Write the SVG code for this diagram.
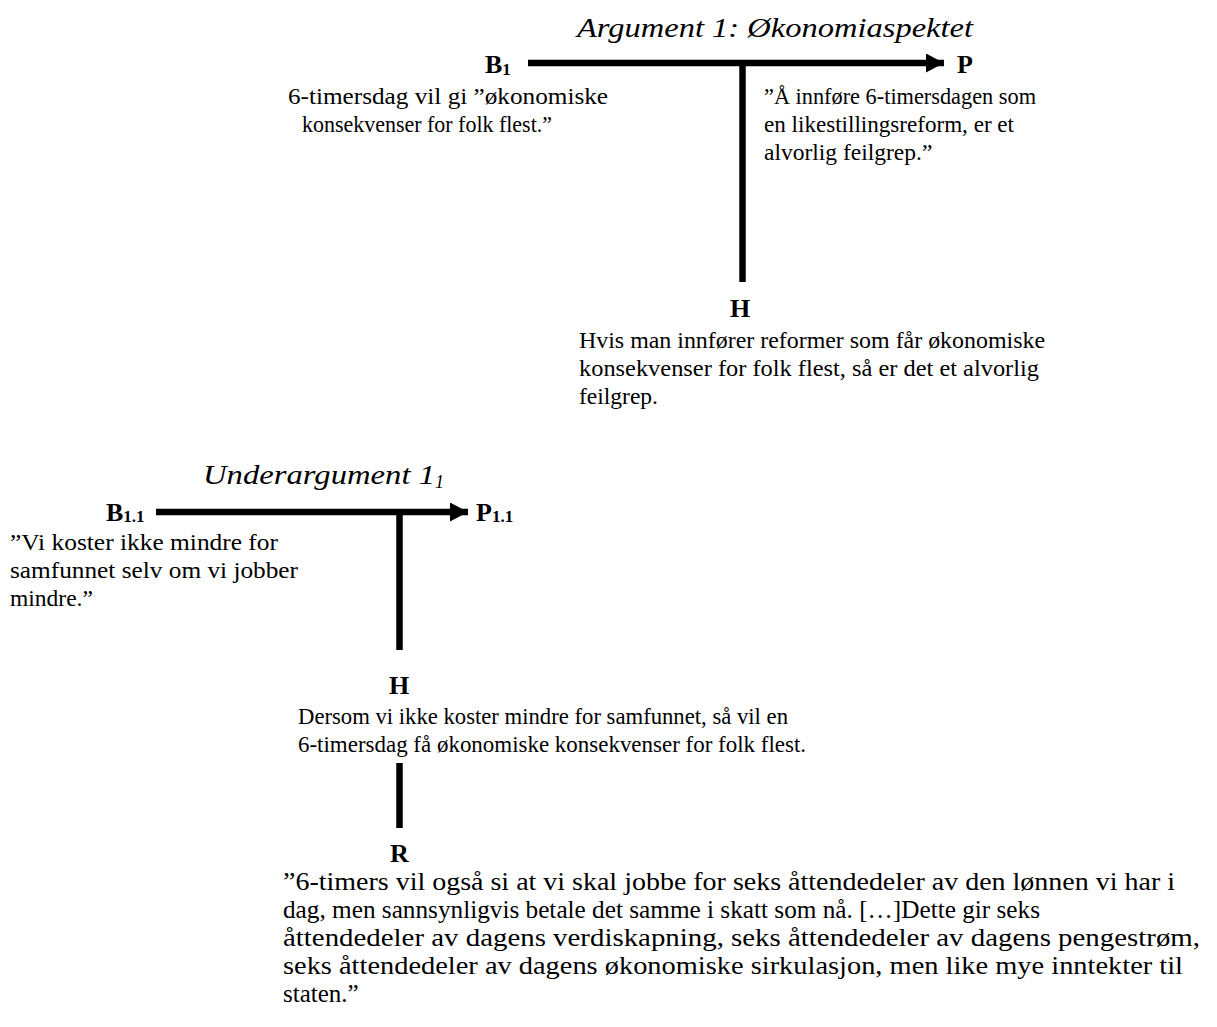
<svg xmlns="http://www.w3.org/2000/svg" width="1217" height="1027" viewBox="0 0 1217 1027">
<style>
text{font-family:"Liberation Serif","Times New Roman",serif;fill:#000}
.b{font-size:23.5px}
.r{font-size:25px}
.t{font-size:28px;font-style:italic}
.l{font-size:26px;font-weight:bold}
.s{font-size:17px}
.ln{stroke:#000;stroke-width:6.5;fill:none}
</style>
<defs>
<marker id="ah" markerUnits="userSpaceOnUse" markerWidth="20" markerHeight="20" refX="18" refY="9.5" orient="auto"><polygon points="0,0 18,9.5 0,19" fill="#000"/></marker>
</defs>
<rect width="1217" height="1027" fill="#fff"/>
<g id="connectors">
<line class="ln" x1="528" y1="63" x2="944" y2="63" marker-end="url(#ah)"/>
<line class="ln" x1="742.5" y1="63" x2="742.5" y2="282"/>
<line class="ln" x1="156" y1="512" x2="468" y2="512" marker-end="url(#ah)"/>
<line class="ln" x1="399.5" y1="512" x2="399.5" y2="650"/>
<line class="ln" x1="399.5" y1="763" x2="399.5" y2="828"/>
</g>
<g id="title1"><text class="t" x="577" y="37" textLength="396" lengthAdjust="spacingAndGlyphs">Argument 1: Økonomiaspektet</text></g>
<g id="B1">
<text class="l" x="485" y="73">B<tspan class="s" dy="2">1</tspan></text>
<text class="b" x="288" y="104" textLength="320" lengthAdjust="spacingAndGlyphs">6-timersdag vil gi ”økonomiske</text>
<text class="b" x="302" y="132" textLength="250" lengthAdjust="spacingAndGlyphs">konsekvenser for folk flest.”</text>
</g>
<g id="P">
<text class="l" x="957" y="73">P</text>
<text class="b" x="764" y="104" textLength="272" lengthAdjust="spacingAndGlyphs">”Å innføre 6-timersdagen som</text>
<text class="b" x="764" y="132" textLength="250" lengthAdjust="spacingAndGlyphs">en likestillingsreform, er et</text>
<text class="b" x="764" y="160">alvorlig feilgrep.”</text>
</g>
<g id="H1">
<text class="l" x="730" y="317">H</text>
<text class="b" x="579" y="348" textLength="466" lengthAdjust="spacingAndGlyphs">Hvis man innfører reformer som får økonomiske</text>
<text class="b" x="579" y="376" textLength="460" lengthAdjust="spacingAndGlyphs">konsekvenser for folk flest, så er det et alvorlig</text>
<text class="b" x="579" y="404">feilgrep.</text>
</g>
<g id="title2"><text class="t" x="203" y="484"><tspan textLength="232" lengthAdjust="spacingAndGlyphs">Underargument 1</tspan><tspan font-size="18" dy="4">1</tspan></text></g>
<g id="B11">
<text class="l" x="106" y="521">B<tspan class="s" dy="1">1.1</tspan></text>
<text class="b" x="10" y="550" textLength="268" lengthAdjust="spacingAndGlyphs">”Vi koster ikke mindre for</text>
<text class="b" x="10" y="578" textLength="288" lengthAdjust="spacingAndGlyphs">samfunnet selv om vi jobber</text>
<text class="b" x="10" y="606">mindre.”</text>
</g>
<g id="P11">
<text class="l" x="476" y="521">P<tspan class="s" dy="1">1.1</tspan></text>
</g>
<g id="H2">
<text class="l" x="389" y="694">H</text>
<text class="b" x="298" y="724" textLength="490" lengthAdjust="spacingAndGlyphs">Dersom vi ikke koster mindre for samfunnet, så vil en</text>
<text class="b" x="298" y="752" textLength="508" lengthAdjust="spacingAndGlyphs">6-timersdag få økonomiske konsekvenser for folk flest.</text>
</g>
<g id="R">
<text class="l" x="390" y="862">R</text>
<text class="r" x="283" y="890" textLength="892" lengthAdjust="spacingAndGlyphs">”6-timers vil også si at vi skal jobbe for seks åttendedeler av den lønnen vi har i</text>
<text class="r" x="283" y="918" textLength="757" lengthAdjust="spacingAndGlyphs">dag, men sannsynligvis betale det samme i skatt som nå. […]Dette gir seks</text>
<text class="r" x="283" y="946" textLength="917" lengthAdjust="spacingAndGlyphs">åttendedeler av dagens verdiskapning, seks åttendedeler av dagens pengestrøm,</text>
<text class="r" x="283" y="974" textLength="900" lengthAdjust="spacingAndGlyphs">seks åttendedeler av dagens økonomiske sirkulasjon, men like mye inntekter til</text>
<text class="r" x="283" y="1002">staten.”</text>
</g>
</svg>
